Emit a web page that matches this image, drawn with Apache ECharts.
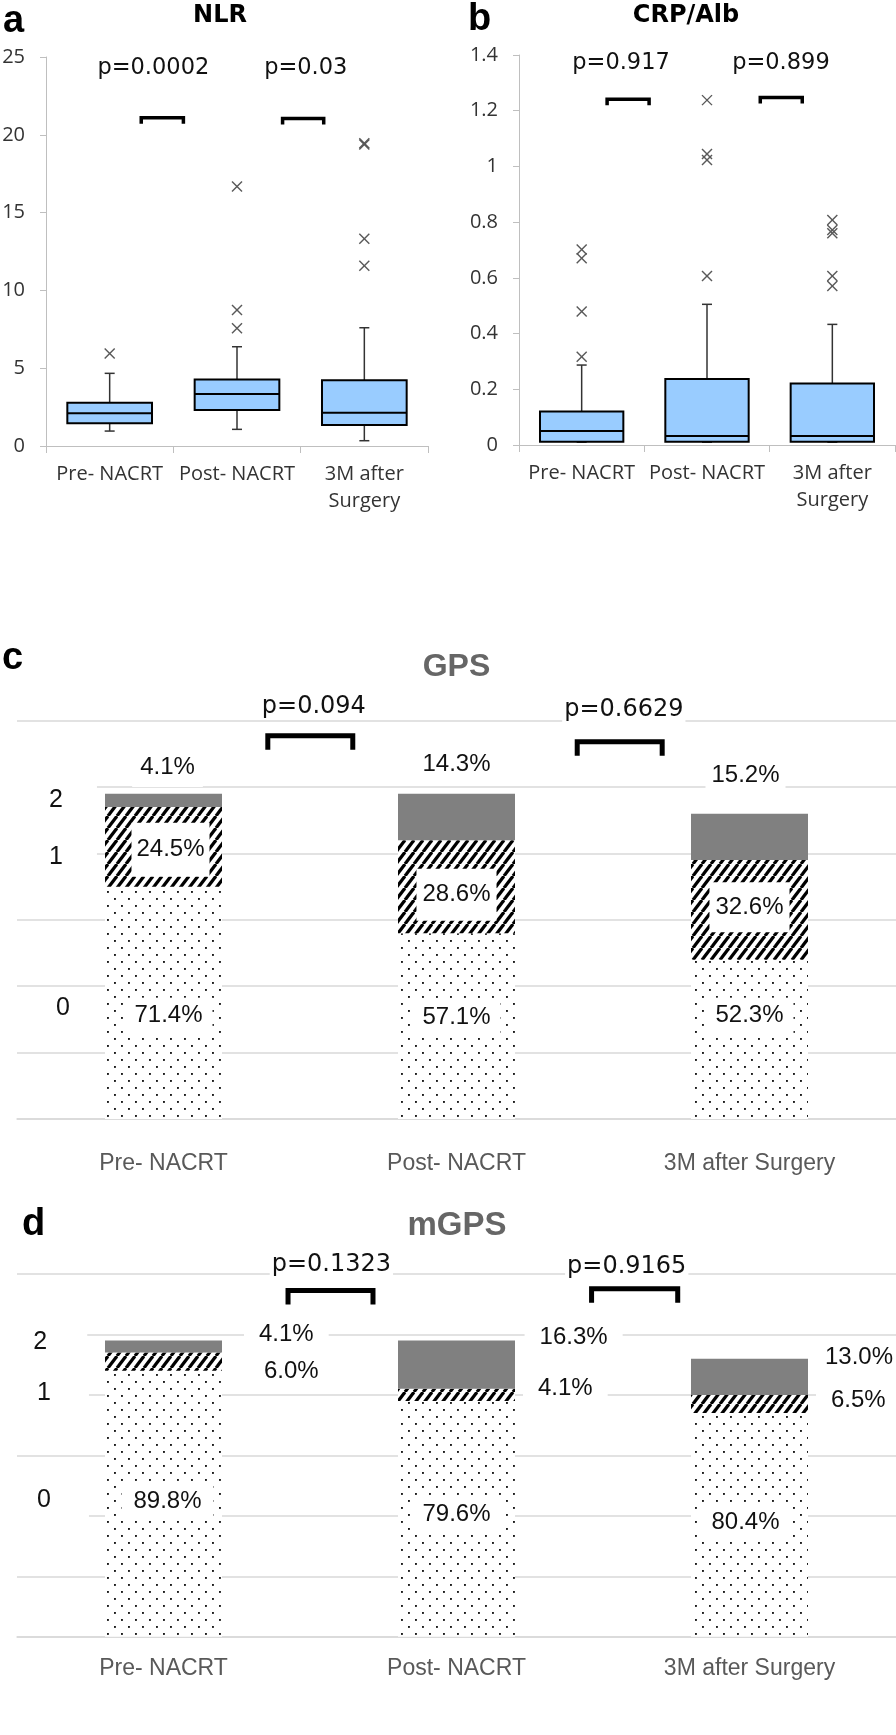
<!DOCTYPE html>
<html><head><meta charset="utf-8">
<script src="https://cdn.jsdelivr.net/npm/echarts@6/dist/echarts.min.js"></script>
<style>html,body{margin:0;padding:0;background:#fff}#chart{width:896px;height:1735px}</style>
</head><body><div id="chart"></div>
<script>
// ---------------- DATA ----------------
const categories = ['Pre- NACRT', 'Post- NACRT', '3M after Surgery'];
// box stats: [min, q1, median, q3, max]
const nlrStats = [[0.96, 1.46, 2.10, 2.78, 4.67], [1.07, 2.31, 3.34, 4.28, 6.38], [0.34, 1.35, 2.14, 4.22, 7.60]];
const nlrOutliers = [[5.95], [7.56, 8.74, 16.67], [11.59, 13.32, 19.38, 19.45]];
const crpStats = [[0.01, 0.012, 0.05, 0.12, 0.287], [0.01, 0.012, 0.032, 0.237, 0.505], [0.01, 0.012, 0.032, 0.221, 0.433]];
const crpOutliers = [[0.317, 0.479, 0.67, 0.702], [0.607, 1.023, 1.045, 1.238], [0.571, 0.607, 0.76, 0.772, 0.808]];
const nlrP = ['p=0.0002', 'p=0.03'];
const crpP = ['p=0.917', 'p=0.899'];
const gpsP = ['p=0.094', 'p=0.6629'];
const mgpsP = ['p=0.1323', 'p=0.9165'];
const scoreNames = ['0', '1', '2'];
// patient counts per score for each time point
const gpsScore0 = [35, 28, 24];
const gpsScore1 = [12, 14, 15];
const gpsScore2 = [2, 7, 7];
const gpsPct0 = ['71.4%', '57.1%', '52.3%'];
const gpsPct1 = ['24.5%', '28.6%', '32.6%'];
const gpsPct2 = ['4.1%', '14.3%', '15.2%'];
const mgpsScore0 = [44, 39, 37];
const mgpsScore1 = [3, 2, 3];
const mgpsScore2 = [2, 8, 6];
const mgpsPct0 = ['89.8%', '79.6%', '80.4%'];
const mgpsPct1 = ['6.0%', '4.1%', '6.5%'];
const mgpsPct2 = ['4.1%', '16.3%', '13.0%'];

// ---------------- LAYOUT (annotation placement, in axis units) ----------------
const L = {
  a: { brackets: [[0.248, 0.579, 21.1], [1.358, 1.681, 21.05]], ptext: [[0.343, 24.3], [1.54, 24.3]], leg: 6, lw: 3.5 },
  b: { brackets: [[0.203, 0.538, 1.241], [1.425, 1.76, 1.247]], ptext: [[0.314, 1.371], [1.59, 1.371]], leg: 6, lw: 3.5 },
  c: { brackets: [[0.356, 0.646, 57.74], [1.412, 1.702, 56.84]], ptext: [[0.513, 62.1], [1.571, 61.6]], leg: 14, lw: 5 },
  d: { brackets: [[0.425, 0.715, 57.28], [1.461, 1.755, 57.56]], ptext: [[0.573, 61.46], [1.581, 61.18]], leg: 14, lw: 5 }
};
const cOff = { s0: [[5, 13], [0, -9], [0, -23.6]], s1: [[7, 3], [0, 8], [0, -2.6]], s2: [[4, -33.4], [0, -53], [-4, -61]] };
const dOff = { s0: [[4, -2], [0, -4], [-4, -2]], s1: [[22, 10], [3, -7], [3, -4]], s2: [[17, -12], [4.6, -27], [-3, -19]] };

// ---------------- PATTERNS ----------------
function dotPattern() {
  const c = document.createElement('canvas'); c.width = 14; c.height = 14;
  const x = c.getContext('2d'); x.fillStyle = '#fff'; x.fillRect(0, 0, 14, 14);
  x.fillStyle = '#1a1a1a'; x.fillRect(2, 2, 1.9, 1.9); x.fillRect(9, 9, 1.9, 1.9);
  return c;
}
function hatchPattern() {
  const w = 9, h = 12;
  const c = document.createElement('canvas'); c.width = w; c.height = h;
  const x = c.getContext('2d'); x.fillStyle = '#fff'; x.fillRect(0, 0, w, h);
  x.strokeStyle = '#000'; x.lineWidth = 3.2; x.lineCap = 'butt';
  for (let k = -1; k <= 1; k++) { x.beginPath(); x.moveTo(k * w, h); x.lineTo(k * w + w, 0); x.stroke(); }
  return c;
}
const DOTS = { image: dotPattern(), repeat: 'repeat' };
const HATCH = { image: hatchPattern(), repeat: 'repeat' };

// ---------------- RENDERERS ----------------
function boxRender(params, api) {
  const x = api.value(0);
  const v = [1, 2, 3, 4, 5].map(i => api.value(i));
  const band = api.size([1, 0])[0];
  const bw = band * 0.665;
  const cx = api.coord([x, v[2]])[0];
  const y = val => api.coord([x, val])[1];
  const l = cx - bw / 2, r = cx + bw / 2, cap = 5;
  const ws = { stroke: '#333', lineWidth: 1.5 };
  return { type: 'group', children: [
    { type: 'line', shape: { x1: cx, y1: y(v[4]), x2: cx, y2: y(v[3]) }, style: ws },
    { type: 'line', shape: { x1: cx, y1: y(v[0]), x2: cx, y2: y(v[1]) }, style: ws },
    { type: 'line', shape: { x1: cx - cap, y1: y(v[4]), x2: cx + cap, y2: y(v[4]) }, style: ws },
    { type: 'line', shape: { x1: cx - cap, y1: y(v[0]), x2: cx + cap, y2: y(v[0]) }, style: ws },
    { type: 'rect', shape: { x: l, y: y(v[3]), width: bw, height: y(v[1]) - y(v[3]) }, style: { fill: '#99CCFF', stroke: '#000', lineWidth: 2 } },
    { type: 'line', shape: { x1: l, y1: y(v[2]), x2: r, y2: y(v[2]) }, style: { stroke: '#000', lineWidth: 2 } }
  ] };
}
function crossRender(params, api) {
  const p = api.coord([api.value(0), api.value(1)]);
  const s = 5, st = { stroke: '#595959', lineWidth: 1.4 };
  return { type: 'group', children: [
    { type: 'line', shape: { x1: p[0] - s, y1: p[1] - s, x2: p[0] + s, y2: p[1] + s }, style: st },
    { type: 'line', shape: { x1: p[0] - s, y1: p[1] + s, x2: p[0] + s, y2: p[1] - s }, style: st }
  ] };
}
function bracketRender(leg, lw) {
  return function (params, api) {
    const p0 = api.coord([api.value(0), api.value(2)]);
    const p1 = api.coord([api.value(1), api.value(2)]);
    return { type: 'polyline', shape: { points: [[p0[0], p0[1] + leg], [p0[0], p0[1]], [p1[0], p1[1]], [p1[0], p1[1] + leg]] },
      style: { stroke: '#000', lineWidth: lw, fill: null, lineJoin: 'miter' } };
  };
}
function ptextRender(texts, fontSize, bg) {
  return function (params, api) {
    const p = api.coord([api.value(0), api.value(1)]);
    return { type: 'text', z2: 50, style: { x: p[0], y: p[1], text: texts[params.dataIndex], fill: '#111',
      font: fontSize + 'px "DejaVu Sans"', align: 'center', verticalAlign: 'middle', textAlign: 'center', textVerticalAlign: 'middle',
      backgroundColor: bg ? '#fff' : null, padding: bg ? [1, 2] : 0 } };
  };
}

// ---------------- AXES / GRIDS ----------------
const grids = [
  { left: 46, top: 57, width: 382, height: 389 },
  { left: 519, top: 55, width: 376, height: 390 },
  { left: 17, top: 720.7, width: 879, height: 398.3 },
  { left: 17, top: 1274, width: 879, height: 362.7 }
].map(g => Object.assign(g, { containLabel: false, outerBoundsMode: 'none' }));

function boxCatAxis(gi) {
  return { type: 'category', gridIndex: gi, data: categories, boundaryGap: true,
    axisLine: { onZero: false, lineStyle: { color: '#bfbfbf', width: 1 } },
    axisTick: { show: true, length: 7, lineStyle: { color: '#bfbfbf' } },
    axisLabel: { interval: 0, margin: 15, color: '#333', fontFamily: 'Open Sans', fontSize: 20, lineHeight: 27,
      formatter: v => v.replace(' Surgery', '\nSurgery') },
    splitLine: { show: false } };
}
function barCatAxis(gi, margin) {
  return { type: 'category', gridIndex: gi, data: categories, boundaryGap: true,
    axisLine: { onZero: false, lineStyle: { color: '#d9d9d9', width: 1.5 } }, axisTick: { show: false },
    axisLabel: { interval: 0, margin: margin, color: '#595959', fontFamily: 'Liberation Sans', fontSize: 23 },
    splitLine: { show: false } };
}
function hiddenVal(gi) { return { type: 'value', gridIndex: gi, min: -0.5, max: 2.5, show: false, splitLine: { show: false }, axisLine: { onZero: false } }; }

const xAxes = [boxCatAxis(0), hiddenVal(0), boxCatAxis(1), hiddenVal(1), barCatAxis(2, 33), hiddenVal(2), barCatAxis(3, 20), hiddenVal(3)];
function boxValAxis(gi, max, interval) {
  return { type: 'value', gridIndex: gi, min: 0, max: max, interval: interval, position: 'left',
    axisLine: { show: true, onZero: false, lineStyle: { color: '#bfbfbf', width: 1 } },
    axisTick: { show: true, length: 6, lineStyle: { color: '#bfbfbf' } },
    axisLabel: { margin: 21, color: '#333', fontFamily: 'Open Sans', fontSize: 20 },
    splitLine: { show: false } };
}
function barValAxis(gi) {
  return { type: 'value', gridIndex: gi, min: 0, max: 60, interval: 10, position: 'left',
    axisLine: { show: false, onZero: false }, axisTick: { show: false }, axisLabel: { show: false },
    splitLine: { show: true, lineStyle: { color: '#d9d9d9', width: 1.5 } } };
}
const yAxes = [boxValAxis(0, 25, 5), boxValAxis(1, 1.4, 0.2), barValAxis(2), barValAxis(3)];

// ---------------- SERIES ----------------
const series = [];
function addBoxPanel(stats, outliers, xi, yi) {
  series.push({ type: 'custom', xAxisIndex: xi, yAxisIndex: yi, renderItem: boxRender,
    encode: { x: 0, y: [1, 2, 3, 4, 5] }, data: stats.map((s, i) => [i].concat(s)), z: 3 });
  const pts = [];
  outliers.forEach((arr, i) => arr.forEach(v => pts.push([i, v])));
  series.push({ type: 'custom', xAxisIndex: xi, yAxisIndex: yi, renderItem: crossRender, encode: { x: 0, y: 1 }, data: pts, z: 4 });
}
function addAnno(lay, texts, xi, yi, fontSize, bg) {
  series.push({ type: 'custom', xAxisIndex: xi, yAxisIndex: yi, renderItem: bracketRender(lay.leg, lay.lw),
    encode: { x: [0, 1], y: 2 }, data: lay.brackets, clip: false, z: 5 });
  series.push({ type: 'custom', xAxisIndex: xi, yAxisIndex: yi, renderItem: ptextRender(texts, fontSize, bg),
    encode: { x: 0, y: 1 }, data: lay.ptext, clip: false, z: 6 });
}
addBoxPanel(nlrStats, nlrOutliers, 0, 0);
addBoxPanel(crpStats, crpOutliers, 2, 1);
addAnno(L.a, nlrP, 1, 0, 22.5, false);
addAnno(L.b, crpP, 3, 1, 22.5, false);

const labelBase = { show: true, color: '#111', fontFamily: 'Liberation Sans', fontSize: 24, backgroundColor: '#fff',
  textBorderWidth: 0, lineHeight: 26 };
function stackBar(name, counts, pcts, fill, xi, yi, stack, offs, position, pads) {
  return { type: 'bar', name: name, xAxisIndex: xi, yAxisIndex: yi, stack: stack, barWidth: 117,
    itemStyle: { color: fill }, emphasis: { disabled: true },
    label: Object.assign({}, labelBase, { position: position, formatter: p => pcts[p.dataIndex] }),
    data: counts.map((v, i) => ({ value: v, label: { offset: offs[i], padding: pads[i] } })), z: 2 };
}
series.push(stackBar(scoreNames[0], gpsScore0, gpsPct0, DOTS, 4, 2, 'gps', cOff.s0, 'inside', [[5, 10], [5, 10], [5, 10]]));
series.push(stackBar(scoreNames[1], gpsScore1, gpsPct1, HATCH, 4, 2, 'gps', cOff.s1, 'inside', [[14, 5], [13, 6], [12, 6]]));
series.push(stackBar(scoreNames[2], gpsScore2, gpsPct2, '#808080', 4, 2, 'gps', cOff.s2, 'inside', [[2, 8, 12, 8], [2, 6], [2, 6]]));
series.push(stackBar(scoreNames[0], mgpsScore0, mgpsPct0, DOTS, 6, 3, 'mgps', dOff.s0, 'inside', [[5, 12], [5, 12], [5, 12]]));
series.push(stackBar(scoreNames[1], mgpsScore1, mgpsPct1, HATCH, 6, 3, 'mgps', dOff.s1, 'right', [[3, 15], [3, 15], [3, 15]]));
series.push(stackBar(scoreNames[2], mgpsScore2, mgpsPct2, '#808080', 6, 3, 'mgps', dOff.s2, 'right', [[3, 15], [3, 15], [3, 15]]));
addAnno(L.c, gpsP, 5, 2, 24, true);
addAnno(L.d, mgpsP, 7, 3, 24, true);

// ---------------- TEXT (titles, panel letters, score legend) ----------------
function txt(text, x, y, font, fill, align, extra) {
  return Object.assign({ type: 'text', z: 100, style: Object.assign({ text: text, x: x, y: y, font: font, fill: fill,
    align: align, textAlign: align, verticalAlign: 'middle', textVerticalAlign: 'middle' }, extra || {}) });
}
const letterFont = 'bold 38px "Liberation Sans"';
const legFont = '25px "Liberation Sans"';
const legBg = { backgroundColor: '#fff' };
const graphic = [
  txt('a', 3, 21.7, letterFont, '#000', 'left'),
  txt('b', 468, 19.7, letterFont, '#000', 'left'),
  txt('c', 2, 658.4, letterFont, '#000', 'left'),
  txt('d', 22, 1224.7, letterFont, '#000', 'left'),
  txt('NLR', 220, 15.5, 'bold 24px "DejaVu Sans"', '#000', 'center'),
  txt('CRP/Alb', 686, 15.5, 'bold 24px "DejaVu Sans"', '#000', 'center'),
  txt('GPS', 456.5, 667, 'bold 32px "Liberation Sans"', '#666', 'center'),
  txt('mGPS', 457, 1226, 'bold 33px "Liberation Sans"', '#666', 'center'),
  txt(scoreNames[2], 56, 800, legFont, '#111', 'center', Object.assign({ padding: [5, 34] }, legBg)),
  txt(scoreNames[1], 56, 856.7, legFont, '#111', 'center', Object.assign({ padding: [5, 34] }, legBg)),
  txt(scoreNames[0], 63, 1008, legFont, '#111', 'center', Object.assign({ padding: [10, 34, 4, 34] }, legBg)),
  txt(scoreNames[2], 48.3, 1342.5, legFont, '#111', 'center', Object.assign({ padding: [4, 40, 4, 24] }, legBg)),
  txt(scoreNames[1], 50, 1393.3, legFont, '#111', 'center', Object.assign({ padding: [4, 38, 4, 26] }, legBg)),
  txt(scoreNames[0], 50, 1500, legFont, '#111', 'center', Object.assign({ padding: [4, 38, 8, 26] }, legBg))
];

const chart = echarts.init(document.getElementById('chart'), null, { renderer: 'canvas' });
chart.setOption({ animation: false, backgroundColor: '#fff', grid: grids, xAxis: xAxes, yAxis: yAxes, series: series, graphic: graphic });
</script></body></html>
